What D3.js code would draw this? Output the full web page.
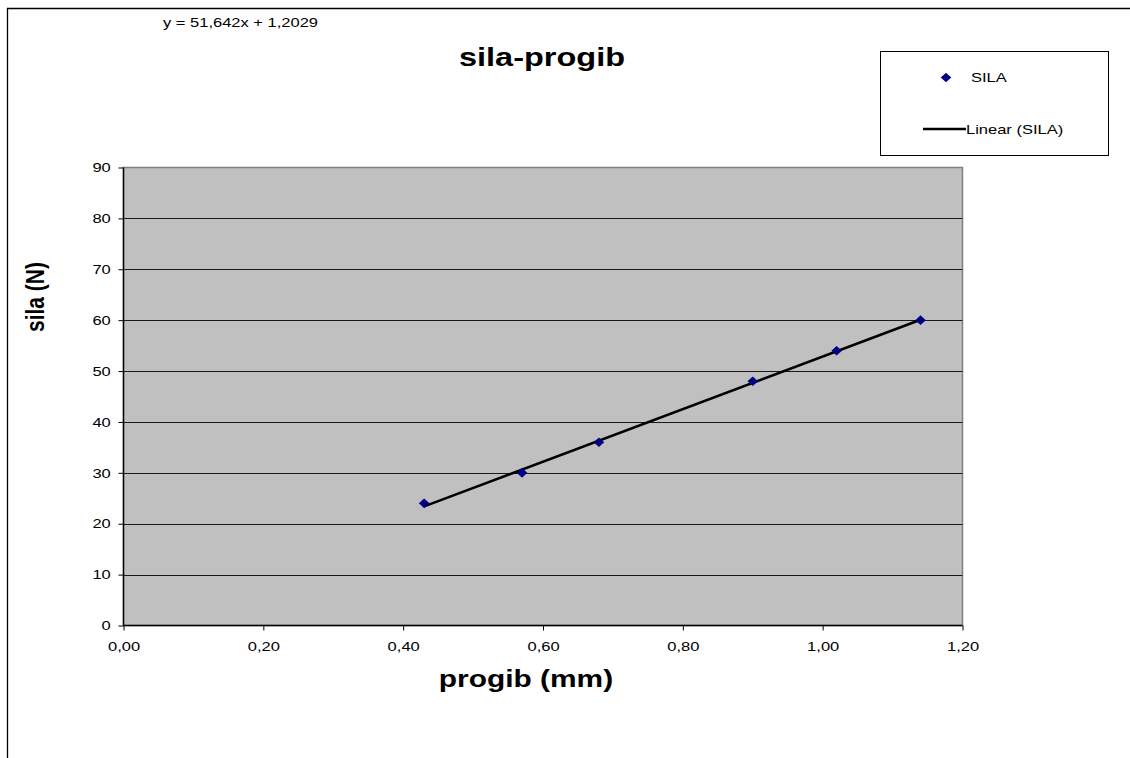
<!DOCTYPE html>
<html><head><meta charset="utf-8">
<script src="https://cdn.jsdelivr.net/npm/d3@7"></script>
<style>body{margin:0;background:#fff;} svg{display:block;font-family:"Liberation Sans",Arial,sans-serif;}</style>
</head><body><svg id="c" width="1130" height="758"></svg>
<script>
const progib = [0.43, 0.57, 0.68, 0.90, 1.02, 1.14];
const sila = [24, 30, 36, 48, 54, 60];
const slope = 51.642, intercept = 1.2029;
const xTicks = [0, 0.2, 0.4, 0.6, 0.8, 1.0, 1.2];
const yTicks = [0, 10, 20, 30, 40, 50, 60, 70, 80, 90];
const titleText = "sila-progib", xTitle = "progib (mm)", yTitle = "sila (N)";
const eqText = "y = 51,642x + 1,2029";
const seriesName = "SILA", trendName = "Linear (SILA)";

const SX = 1.25; // horizontal stretch of the original rendering
const svg = d3.select("#c");
const L = 123.5, R = 962.5, T = 167.5, B = 625.5;
const x = d3.scaleLinear().domain([0, 1.2]).range([L, R]);
const y = d3.scaleLinear().domain([0, 90]).range([B, T]);
const fmt = d => d3.format(".2f")(d).replace(".", ",");

function label(px, py, txt, size, opts = {}) {
  return svg.append("text")
    .attr("transform", `translate(${px},${py}) scale(${opts.sx || SX},1)`)
    .attr("text-anchor", opts.anchor || "start")
    .attr("font-size", size)
    .attr("font-weight", opts.bold ? "bold" : "normal")
    .attr("fill", "#000")
    .text(txt);
}

// outer chart border
svg.append("path").attr("d", `M7.5,758 V8.5 H1130`).attr("fill", "none").attr("stroke", "#000").attr("stroke-width", 1.3);

// plot area
svg.append("rect").attr("x", L).attr("y", T).attr("width", R - L).attr("height", B - T)
  .attr("fill", "#c0c0c0").attr("stroke", "#808080").attr("stroke-width", 1.5);

// gridlines
svg.append("g").selectAll("line").data(yTicks.filter(d => d > 0 && d < 90)).join("line")
  .attr("x1", L).attr("x2", R).attr("y1", d => Math.round(y(d)) + 0.5).attr("y2", d => Math.round(y(d)) + 0.5)
  .attr("stroke", "#1a1a1a").attr("stroke-width", 1.2);

// axes
const yAxis = d3.axisLeft(y).tickValues(yTicks).tickSize(5).tickPadding(5.2).tickFormat(d => d);
const gy = svg.append("g").attr("transform", `translate(${L},0)`).call(yAxis);
const xAxis = d3.axisBottom(x).tickValues(xTicks).tickSize(5).tickPadding(11.5).tickFormat(fmt);
const gx = svg.append("g").attr("transform", `translate(0,${B})`).call(xAxis);
[gx, gy].forEach(g => {
  g.select(".domain").remove();
  g.selectAll("line").attr("stroke", "#000");
  g.selectAll("text").attr("font-size", 13.2).attr("fill", "#000")
    .attr("font-family", "Liberation Sans, Arial, sans-serif")
    .attr("transform", `scale(${SX},1)`);
});
svg.append("line").attr("x1", L).attr("x2", L).attr("y1", T).attr("y2", B).attr("stroke", "#000").attr("stroke-width", 1.4);
svg.append("line").attr("x1", L).attr("x2", R).attr("y1", B).attr("y2", B).attr("stroke", "#000").attr("stroke-width", 1.4);

// trendline
const xmin = d3.min(progib), xmax = d3.max(progib);
svg.append("line").attr("x1", x(xmin)).attr("y1", y(slope * xmin + intercept))
  .attr("x2", x(xmax)).attr("y2", y(slope * xmax + intercept))
  .attr("stroke", "#000").attr("stroke-width", 2.6);

// markers
const diamond = (w, h) => `M0,${-h} L${w},0 L0,${h} L${-w},0 Z`;
svg.append("g").selectAll("path").data(progib).join("path")
  .attr("d", diamond(5.3, 4.8))
  .attr("transform", (d, i) => `translate(${x(d)},${y(sila[i])})`)
  .attr("fill", "#000080");

// titles
label(542, 66, titleText, 26, { anchor: "middle", bold: true });
label(526, 687, xTitle, 23, { anchor: "middle", bold: true, sx: 1.3 });
svg.append("text").attr("transform", "translate(44,297) rotate(-90) scale(1,1.25)").attr("text-anchor", "middle")
  .attr("font-size", 21).attr("font-weight", "bold").text(yTitle);

// equation
label(163, 26.5, eqText, 13.2);

// legend
svg.append("rect").attr("x", 880.5).attr("y", 51.5).attr("width", 228).attr("height", 104)
  .attr("fill", "#fff").attr("stroke", "#000").attr("stroke-width", 1);
svg.append("path").attr("d", diamond(5.3, 4.8)).attr("transform", "translate(946,77.5)").attr("fill", "#000080");
label(971, 82, seriesName, 13.2);
svg.append("line").attr("x1", 923).attr("x2", 966).attr("y1", 129).attr("y2", 129).attr("stroke", "#000").attr("stroke-width", 2.6);
label(966, 134, trendName, 13.2);
</script></body></html>
